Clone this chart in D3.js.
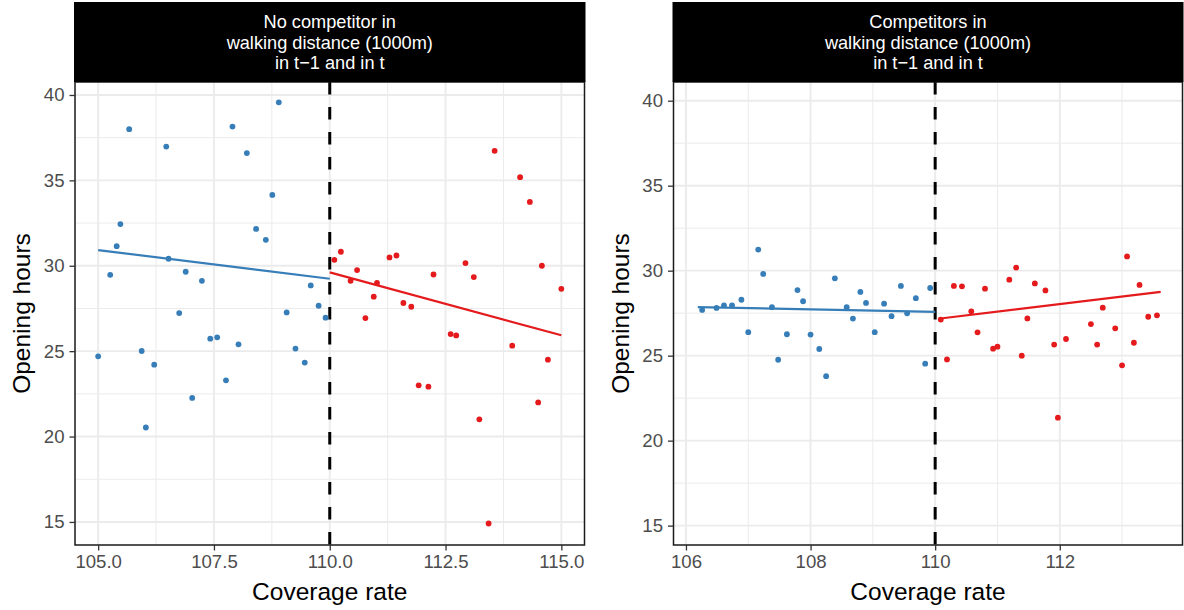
<!DOCTYPE html>
<html>
<head>
<meta charset="utf-8">
<script src="https://cdn.jsdelivr.net/npm/d3@7"></script>
<style>
  body { margin: 0; background: #fff; }
  svg text { font-family: "Liberation Sans", Arial, sans-serif; }
</style>
</head>
<body>
<div id="plot"></div>
<script>
// Panel 1: no competitor in walking distance
const leftBlueX = [105.67, 106.47, 107.90, 108.90, 108.21, 108.76, 105.48, 108.41, 108.62, 105.40,
                   106.52, 105.26, 106.89, 107.24, 109.59, 109.76, 106.75, 109.07, 109.91, 107.42,
                   107.57, 108.03, 105.00, 105.94, 106.21, 109.26, 109.46, 107.76, 107.03, 106.03];
const leftBlueY = [38.00, 36.98, 38.15, 39.57, 36.60, 34.15, 32.44, 32.16, 31.52, 31.15,
                   30.41, 29.47, 29.65, 29.12, 28.85, 27.66, 27.23, 27.27, 26.96, 25.73,
                   25.81, 25.40, 24.70, 25.01, 24.21, 25.15, 24.33, 23.29, 22.26, 20.53];
const leftRedX = [110.10, 110.24, 110.59, 110.45, 111.02, 110.95, 110.77, 111.29, 111.44, 111.59,
                  111.76, 112.24, 112.93, 113.11, 113.56, 114.11, 114.32, 114.58, 115.00, 112.61,
                  112.73, 113.94, 114.71, 111.92, 112.13, 114.50, 113.23, 113.43];
const leftRedY = [30.35, 30.82, 29.75, 29.12, 28.99, 28.19, 26.94, 30.49, 30.60, 27.82,
                  27.60, 29.49, 30.16, 29.34, 36.73, 35.19, 33.74, 30.00, 28.65, 26.00,
                  25.92, 25.32, 24.50, 23.00, 22.92, 22.00, 21.01, 14.91];
const leftBlueFit = [[105.0, 30.92], [110.0, 29.24]];
const leftRedFit = [[110.0, 29.61], [115.0, 25.93]];

// Panel 2: competitors in walking distance
const rightBlueX = [106.26, 106.49, 106.61, 106.74, 106.89, 107.00, 107.16, 107.24, 107.38, 107.48,
                    107.62, 107.79, 107.88, 108.00, 108.14, 108.25, 108.39, 108.58, 108.68, 108.80,
                    108.89, 109.03, 109.18, 109.30, 109.45, 109.55, 109.69, 109.84, 109.92];
const rightBlueY = [27.69, 27.81, 27.96, 27.96, 28.29, 26.38, 31.24, 29.81, 27.85, 24.76,
                    26.26, 28.86, 28.20, 26.24, 25.39, 23.79, 29.55, 27.85, 27.18, 28.75,
                    28.10, 26.38, 28.06, 27.32, 29.10, 27.49, 28.38, 24.53, 28.98];
const rightRedX = [110.09, 110.19, 110.30, 110.43, 110.58, 110.68, 110.80, 110.93, 111.00, 111.19,
                   111.30, 111.39, 111.48, 111.60, 111.77, 111.91, 111.97, 112.10, 112.50, 112.60,
                   112.69, 112.89, 113.00, 113.08, 113.19, 113.28, 113.42, 113.56];
const rightRedY = [27.12, 24.78, 29.10, 29.08, 27.61, 26.37, 28.94, 25.41, 25.53, 29.47,
                   30.18, 25.00, 27.19, 29.25, 28.84, 25.65, 21.35, 25.98, 26.86, 25.65,
                   27.82, 26.61, 24.43, 30.84, 25.76, 29.16, 27.29, 27.37];
const rightBlueFit = [[106.19, 27.86], [110.0, 27.57]];
const rightRedFit = [[110.05, 27.17], [113.62, 28.75]];

const stripLabels = [
  ["No competitor in", "walking distance (1000m)", "in t\u22121 and in t"],
  ["Competitors in", "walking distance (1000m)", "in t\u22121 and in t"]
];
const leftXTicks = [105, 107.5, 110, 112.5, 115];
const leftXMinor = [106.25, 108.75, 111.25, 113.75];
const rightXTicks = [106, 108, 110, 112];
const rightXMinor = [107, 109, 111, 113];
const yTicks = [15, 20, 25, 30, 35, 40];
const yMinor = [17.5, 22.5, 27.5, 32.5, 37.5];
const cutoff = 110;

const blue = "#377EB8", red = "#E41A1C";

const svg = d3.select("#plot")
  .append("svg")
    .attr("width", 1184)
    .attr("height", 610);

function drawPanel(p) {
  const x = d3.scaleLinear().domain(p.xDomain).range([p.left, p.right]);
  const y = d3.scaleLinear().domain(p.yDomain).range([p.bottom, p.top]);
  const g = svg.append("g");

  // minor and major grid
  g.selectAll(".vminor").data(p.xMinor).enter().append("line")
    .attr("x1", d => x(d)).attr("x2", d => x(d))
    .attr("y1", p.top).attr("y2", p.bottom)
    .attr("stroke", "#EBEBEB").attr("stroke-width", 1);
  g.selectAll(".hminor").data(yMinor).enter().append("line")
    .attr("y1", d => y(d)).attr("y2", d => y(d))
    .attr("x1", p.left).attr("x2", p.right)
    .attr("stroke", "#EBEBEB").attr("stroke-width", 1);
  g.selectAll(".vmajor").data(p.xTicks).enter().append("line")
    .attr("x1", d => x(d)).attr("x2", d => x(d))
    .attr("y1", p.top).attr("y2", p.bottom)
    .attr("stroke", "#EBEBEB").attr("stroke-width", 1.9);
  g.selectAll(".hmajor").data(yTicks).enter().append("line")
    .attr("y1", d => y(d)).attr("y2", d => y(d))
    .attr("x1", p.left).attr("x2", p.right)
    .attr("stroke", "#EBEBEB").attr("stroke-width", 1.9);

  // cutoff line
  g.append("line")
    .attr("x1", x(cutoff)).attr("x2", x(cutoff))
    .attr("y1", p.top).attr("y2", p.bottom)
    .attr("stroke", "#000").attr("stroke-width", 3)
    .attr("stroke-dasharray", "12.5,12.5");

  // points
  const groups = [
    { xs: p.blueX, ys: p.blueY, color: blue },
    { xs: p.redX, ys: p.redY, color: red }
  ];
  groups.forEach(s => {
    g.selectAll(null).data(s.xs).enter().append("circle")
      .attr("cx", d => x(d))
      .attr("cy", (d, i) => y(s.ys[i]))
      .attr("r", 2.9)
      .attr("fill", s.color);
  });

  // fitted lines
  const line = d3.line().x(d => x(d[0])).y(d => y(d[1]));
  g.append("path").attr("d", line(p.blueFit))
    .attr("fill", "none").attr("stroke", blue).attr("stroke-width", 2.2);
  g.append("path").attr("d", line(p.redFit))
    .attr("fill", "none").attr("stroke", red).attr("stroke-width", 2.2);

  // panel border
  g.append("rect")
    .attr("x", p.left).attr("y", p.top)
    .attr("width", p.right - p.left).attr("height", p.bottom - p.top)
    .attr("fill", "none").attr("stroke", "#1a1a1a").attr("stroke-width", 1.5);

  // axes
  const xAxis = g.append("g")
    .attr("transform", `translate(0,${p.bottom})`)
    .call(d3.axisBottom(x).tickValues(p.xTicks).tickFormat(p.xFormat).tickSize(5.5).tickPadding(4));
  const yAxis = g.append("g")
    .attr("transform", `translate(${p.left},0)`)
    .call(d3.axisLeft(y).tickValues(yTicks).tickFormat(d3.format("d")).tickSize(5.5).tickPadding(5));
  [xAxis, yAxis].forEach(a => {
    a.select(".domain").remove();
    a.selectAll(".tick line").attr("stroke", "#333").attr("stroke-width", 1.3);
    a.selectAll(".tick text")
      .attr("fill", "#4D4D4D")
      .style("font-size", "18.6px")
      .style("font-family", "'Liberation Sans', Arial, sans-serif");
  });

  // strip
  g.append("rect")
    .attr("x", p.left - 1).attr("y", 2)
    .attr("width", p.right - p.left + 2).attr("height", p.top - 2)
    .attr("fill", "#000");
  g.append("text")
    .attr("x", (p.left + p.right) / 2)
    .attr("y", 28)
    .attr("text-anchor", "middle")
    .attr("fill", "#fff")
    .style("font-size", "18.2px")
    .selectAll("tspan").data(p.strip).enter().append("tspan")
      .attr("x", (p.left + p.right) / 2)
      .attr("dy", (d, i) => i === 0 ? 0 : 20.5)
      .text(d => d);

  // axis titles
  g.append("text")
    .attr("x", (p.left + p.right) / 2)
    .attr("y", 600)
    .attr("text-anchor", "middle")
    .style("font-size", "24.5px")
    .text("Coverage rate");
  g.append("text")
    .attr("transform", `translate(${p.left - 45},${(p.top + p.bottom) / 2}) rotate(-90)`)
    .attr("text-anchor", "middle")
    .style("font-size", "24.5px")
    .text("Opening hours");
}

drawPanel({
  left: 75, right: 584.5, top: 82, bottom: 545,
  xDomain: [104.5, 115.5], yDomain: [13.65, 40.76],
  xTicks: leftXTicks, xMinor: leftXMinor, xFormat: d3.format(".1f"),
  blueX: leftBlueX, blueY: leftBlueY, redX: leftRedX, redY: leftRedY,
  blueFit: leftBlueFit, redFit: leftRedFit, strip: stripLabels[0]
});

drawPanel({
  left: 673.5, right: 1182.5, top: 82, bottom: 545,
  xDomain: [105.8, 113.97], yDomain: [13.86, 41.1],
  xTicks: rightXTicks, xMinor: rightXMinor, xFormat: d3.format("d"),
  blueX: rightBlueX, blueY: rightBlueY, redX: rightRedX, redY: rightRedY,
  blueFit: rightBlueFit, redFit: rightRedFit, strip: stripLabels[1]
});
</script>
</body>
</html>
